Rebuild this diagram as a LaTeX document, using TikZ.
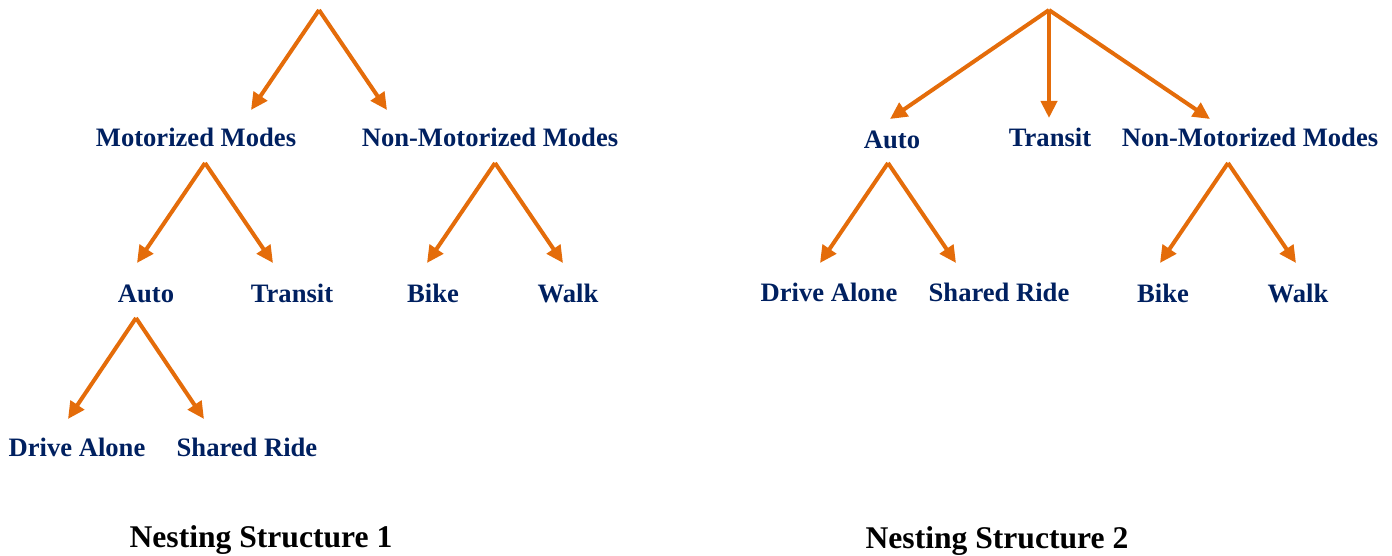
\documentclass[tikz,border=0pt]{standalone}
\usepackage{fontspec}
\setmainfont{Liberation Serif}
\usetikzlibrary{arrows.meta}
\definecolor{navy}{RGB}{0,32,96}
\definecolor{orng}{RGB}{228,108,10}
\begin{document}
\begin{tikzpicture}[x=1pt,y=-1pt,
  lbl/.style={anchor=base,inner sep=0pt,text=navy,font=\fontsize{26.6}{30}\selectfont\bfseries},
  ttl/.style={anchor=base,inner sep=0pt,text=black,font=\fontsize{31.6}{36}\selectfont\bfseries},
  arr/.style={draw=orng,line width=4pt,-{Triangle[length=17pt,width=16pt]}}]
\useasboundingbox (0,0) rectangle (1392,556);
% ---- Nesting structure 1 ----
\coordinate (r1) at (319,10);
\coordinate (r1a) at (251,110);
\coordinate (r1b) at (387,110);
\node[lbl] (mm1) at (196,147) {Motorized Modes};
\node[lbl] (nm1) at (490,147) {Non-Motorized Modes};
\coordinate (mmt) at (205,163);
\coordinate (mma) at (137,263);
\coordinate (mmb) at (273,263);
\coordinate (nmt) at (495,163);
\coordinate (nma) at (427,263);
\coordinate (nmb) at (563,263);
\node[lbl] (au1) at (146,302) {Auto};
\node[lbl] (tr1) at (292,302) {Transit};
\node[lbl] (bk1) at (433,302) {Bike};
\node[lbl] (wk1) at (568,302) {Walk};
\coordinate (aut) at (136,318);
\coordinate (aua) at (68,419);
\coordinate (aub) at (204,419);
\node[lbl] (da1) at (77,456) {Drive Alone};
\node[lbl] (sr1) at (247,456) {Shared Ride};
\node[ttl] (t1) at (261,547) {Nesting Structure 1};
\draw[arr] (r1) -- (r1a);
\draw[arr] (r1) -- (r1b);
\draw[arr] (mmt) -- (mma);
\draw[arr] (mmt) -- (mmb);
\draw[arr] (nmt) -- (nma);
\draw[arr] (nmt) -- (nmb);
\draw[arr] (aut) -- (aua);
\draw[arr] (aut) -- (aub);
% ---- Nesting structure 2 ----
\coordinate (r2) at (1049,10);
\coordinate (r2a) at (890,119);
\coordinate (r2b) at (1049,118);
\coordinate (r2c) at (1210,119);
\node[lbl] (au2) at (892,149) {Auto};
\node[lbl] (tr2) at (1050,147) {Transit};
\node[lbl] (nm2) at (1250,147) {Non-Motorized Modes};
\coordinate (a2t) at (888,163);
\coordinate (a2a) at (820,263);
\coordinate (a2b) at (956,263);
\coordinate (n2t) at (1228,163);
\coordinate (n2a) at (1160,263);
\coordinate (n2b) at (1296,263);
\node[lbl] (da2) at (829,301) {Drive Alone};
\node[lbl] (sr2) at (999,301) {Shared Ride};
\node[lbl] (bk2) at (1163,302) {Bike};
\node[lbl] (wk2) at (1298,302) {Walk};
\node[ttl] (t2) at (997,548) {Nesting Structure 2};
\draw[arr] (r2) -- (r2a);
\draw[arr] (r2) -- (r2b);
\draw[arr] (r2) -- (r2c);
\draw[arr] (a2t) -- (a2a);
\draw[arr] (a2t) -- (a2b);
\draw[arr] (n2t) -- (n2a);
\draw[arr] (n2t) -- (n2b);
\end{tikzpicture}
\end{document}
